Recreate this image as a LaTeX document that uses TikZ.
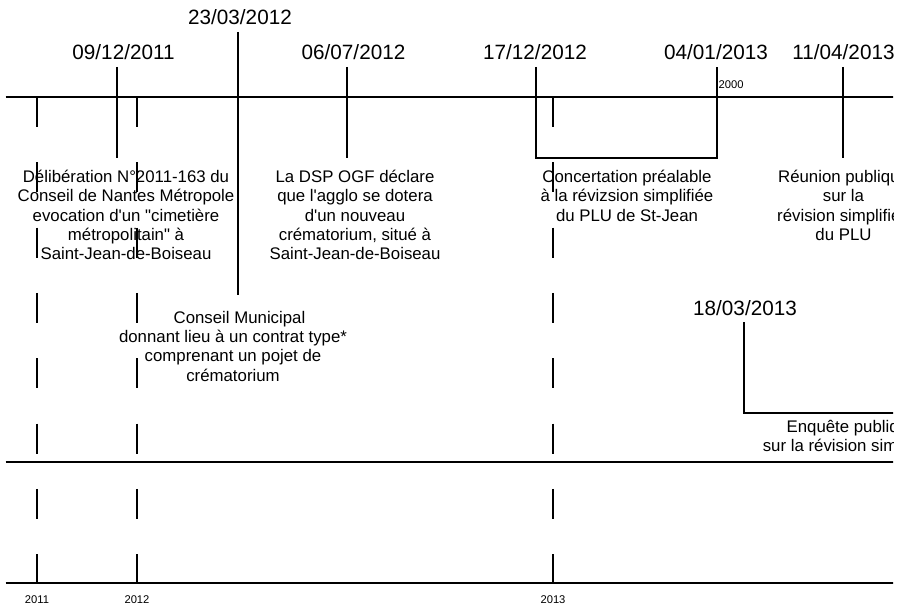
\documentclass[tikz,border=0pt]{standalone}
\usepackage{fontspec}
\setmainfont{Liberation Sans}
\usetikzlibrary{positioning, calc}

\tikzset{
  axe/.style={line width=1.3pt},
  repere/.style={line width=1.3pt},
  annee/.style={line width=1.3pt, dash pattern=on 30pt off 35.3pt},
  date/.style={font=\fontsize{20.7}{23.8}\selectfont, inner sep=0pt},
  texte/.style={font=\fontsize{16.8}{19.3}\selectfont, align=center, inner sep=0pt, anchor=north},
  petit/.style={font=\fontsize{11.2}{13}\selectfont, inner sep=0pt},
}
\newcommand{\apo}{\textquotesingle}
\newcommand{\guil}{\textquotedbl}

\begin{document}
\begin{tikzpicture}[x=1pt, y=-1pt]
\useasboundingbox (0,0) rectangle (904,607);

% Helper macro for one dated marker on the time line
% Arguments: name, label x, label baseline, tick x, tick top, tick bottom, date
\def\jalon#1#2#3#4#5#6#7{
    \node[date, anchor=base] (#1) at (#2,#3) {#7};
    \coordinate (#1h) at (#4,#5);
    \coordinate (#1b) at (#4,#6);
    \draw[repere] (#1h) -- (#1b);
}

\begin{scope}
\clip (0,0) rectangle (893,607);

% Horizontal axes
\coordinate (axe1g) at (5.5,97);  \coordinate (axe1d) at (904,97);
\coordinate (axe2g) at (5.5,462); \coordinate (axe2d) at (904,462);
\coordinate (axe3g) at (5.5,583); \coordinate (axe3d) at (904,583);
\draw[axe] (axe1g) -- (axe1d);
\draw[axe] (axe2g) -- (axe2d);
\draw[axe] (axe3g) -- (axe3d);

% Year separators
\foreach \xa/\an in {37/2011, 137/2012, 553/2013}{
    \coordinate (an\an h) at (\xa,97);
    \coordinate (an\an b) at (\xa,583);
    \draw[annee] (an\an h) -- (an\an b);
    \node[petit, anchor=base] (lab\an) at (\xa,603) {\an};
}

% Dated markers
\jalon{d1}{123.5}{60}{117}{67}{158}{09/12/2011}
\jalon{d2}{240}{25}{238}{32}{295}{23/03/2012}
\jalon{d3}{353.5}{60}{347}{67}{158}{06/07/2012}
\jalon{d6}{843.5}{60}{843}{67}{158}{11/04/2013}

% Period 17/12/2012 - 04/01/2013
\node[date, anchor=base] (d4) at (535,60) {17/12/2012};
\node[date, anchor=base] (d5) at (716,60) {04/01/2013};
\coordinate (p1h) at (536,67);  \coordinate (p1b) at (536,158);
\coordinate (p2h) at (717,67);  \coordinate (p2b) at (717,158);
\draw[repere] (p1h) -- (p1b) -- (p2b) -- (p2h);
\node[petit, anchor=base west] (mil) at (718.5,89) {2000};

% Period from 18/03/2013
\node[date, anchor=base] (d7) at (745,315.5) {18/03/2013};
\coordinate (p3h) at (744,322); \coordinate (p3b) at (744,413);
\coordinate (p3d) at (904,413);
\draw[repere] (p3h) -- (p3b) -- (p3d);

% Event texts
\node[texte] (ev1) at (126,170) {D\'elib\'eration N\textdegree2011-163 du\\Conseil de Nantes M\'etropole\\evocation d\apo un \guil cimeti\`ere\\m\'etropolitain\guil{} \`a\\Saint-Jean-de-Boiseau};
\node[texte] (ev2) at (355,170) {La DSP OGF d\'eclare\\que l\apo agglo se dotera\\d\apo un nouveau\\cr\'ematorium, situ\'e \`a\\Saint-Jean-de-Boiseau};
\node[texte] (ev3) at (233,311) {\hspace*{13pt}Conseil Municipal\\donnant lieu \`a un contrat type*\\comprenant un pojet de\\cr\'ematorium};
\node[texte] (ev4) at (627,170) {Concertation pr\'ealable\\\`a la r\'evizsion simplifi\'ee\\du PLU de St-Jean};
\node[texte] (ev5) at (843.5,170) {R\'eunion publique\\sur la\\r\'evision simplifi\'ee\\du PLU};
\node[texte] (ev6) at (852,420) {Enqu\^ete publique\\sur la r\'evision simplifi\'ee};
\end{scope}

\end{tikzpicture}
\end{document}
